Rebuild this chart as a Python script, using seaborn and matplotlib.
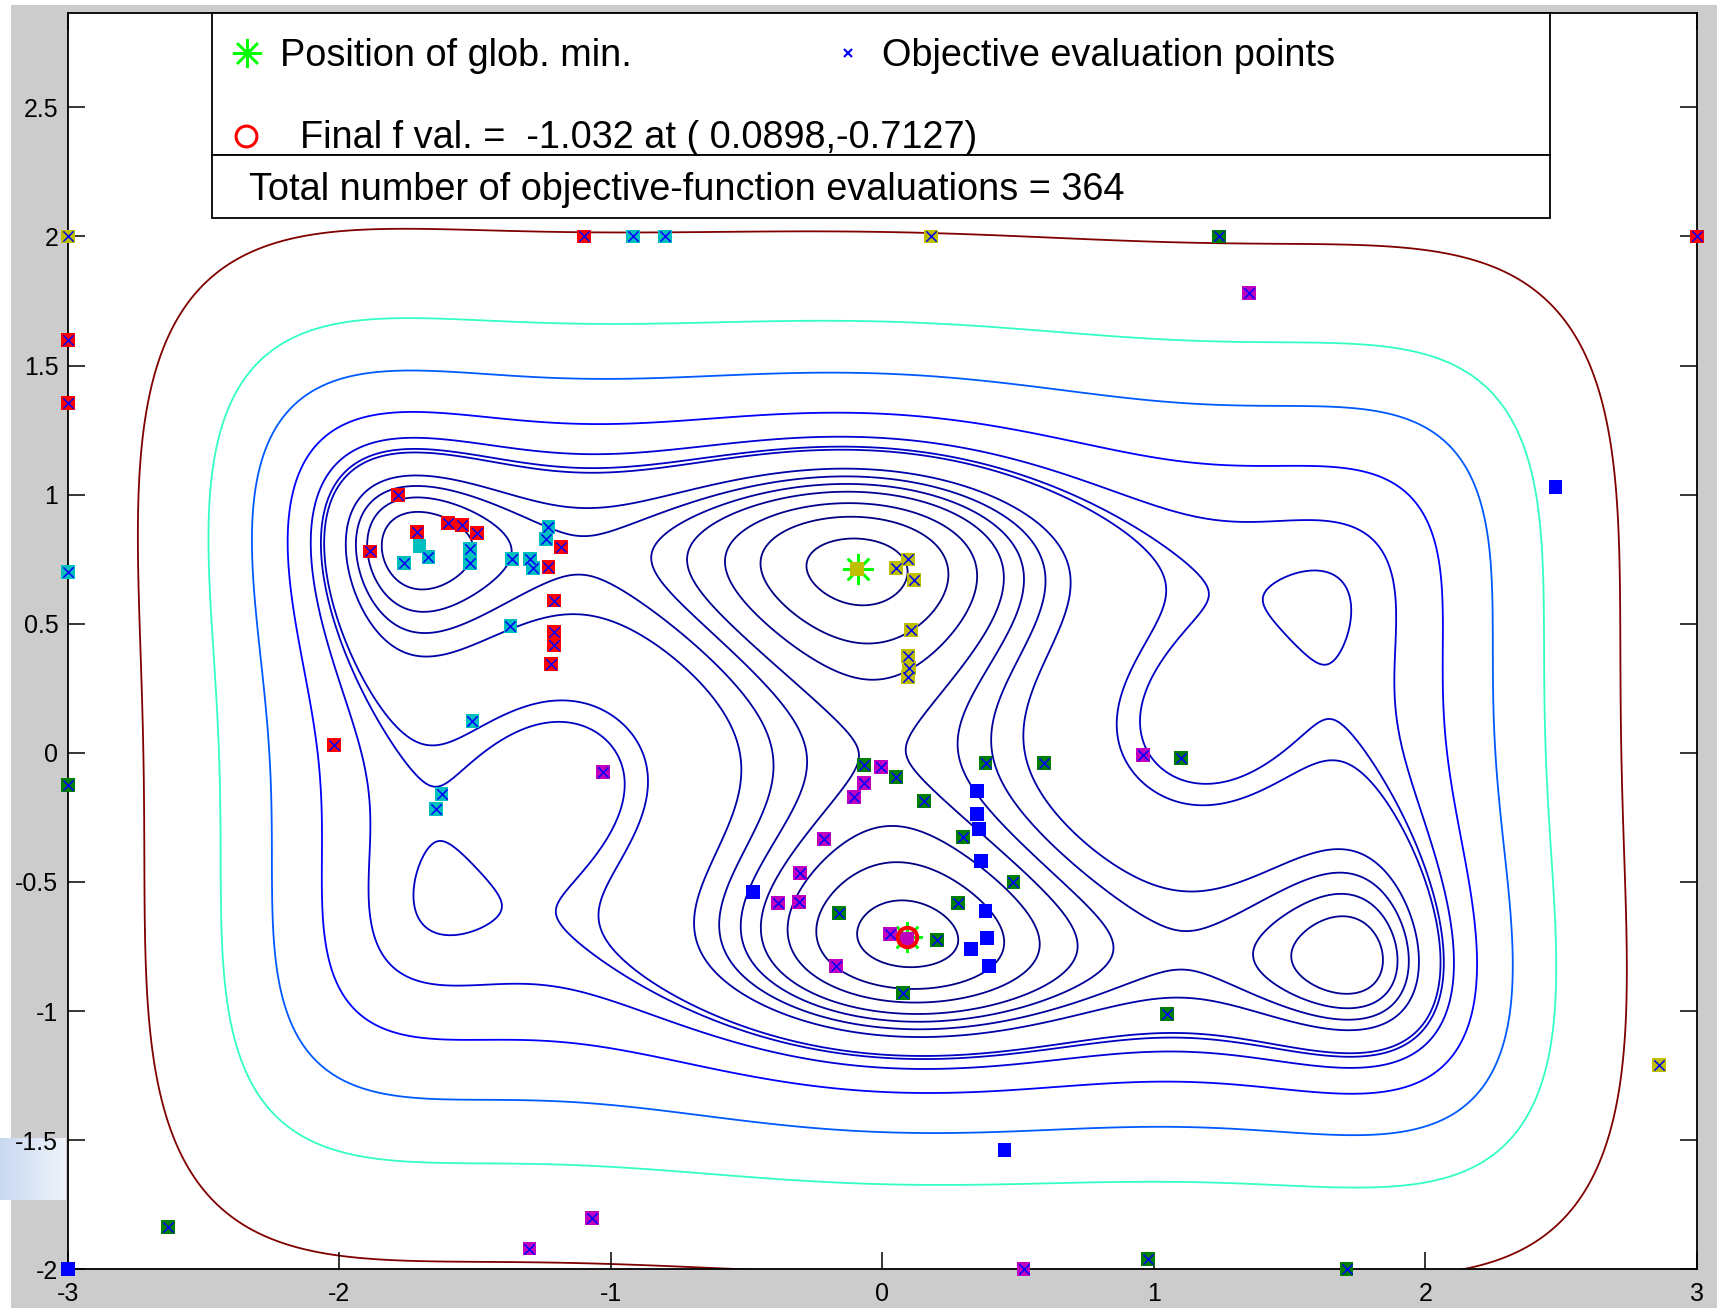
import numpy as np
import pandas as pd
import matplotlib
matplotlib.use("Agg")
import matplotlib.pyplot as plt
from matplotlib.patches import Rectangle
import seaborn as sns

# contour levels of the objective (six-hump camel back)
levels = [-0.9, -0.6, -0.3, 0.03, 0.3, 0.6, 0.95, 2.0, 2.2, 2.9, 5, 10, 20, 50]

# evaluation points, grouped by colour
red_x = [-1.10, 3.00, -3.00, -3.00, -1.785, -1.886, -1.713, -1.60, -1.547, -1.493, -1.184, -1.23, -1.21, -1.21, -1.21, -1.22, -2.02]
red_y = [2.00, 2.00, 1.60, 1.355, 1.00, 0.78, 0.855, 0.89, 0.884, 0.85, 0.797, 0.72, 0.59, 0.468, 0.418, 0.345, 0.032]
cyan_x = [-0.92, -0.80, -3.00, -1.761, -1.672, -1.519, -1.519, -1.363, -1.298, -1.286, -1.23, -1.24, -1.37, -1.51, -1.624, -1.644]
cyan_y = [2.00, 2.00, 0.70, 0.736, 0.758, 0.79, 0.735, 0.75, 0.75, 0.716, 0.875, 0.83, 0.49, 0.125, -0.16, -0.218]
yellow_x = [-3.00, 0.18, 2.86, 0.095, 0.051, 0.115, 0.107, 0.095, 0.099, 0.095]
yellow_y = [2.00, 2.00, -1.21, 0.749, 0.715, 0.668, 0.477, 0.375, 0.33, 0.295]
green_x = [1.24, -3.00, -2.63, 0.98, 1.71, -0.069, 0.051, 0.152, 0.38, 0.594, 0.297, 0.483, 0.28, -0.161, 0.202, 0.077, 1.10, 1.05]
green_y = [2.00, -0.125, -1.835, -1.96, -2.00, -0.047, -0.094, -0.187, -0.04, -0.04, -0.325, -0.50, -0.583, -0.621, -0.725, -0.93, -0.02, -1.01]
magenta_x = [1.35, -1.07, -1.30, 0.52, -1.03, -0.004, -0.066, -0.103, -0.214, -0.302, -0.383, -0.308, 0.029, -0.171, 0.96]
magenta_y = [1.78, -1.80, -1.92, -2.00, -0.074, -0.054, -0.117, -0.172, -0.333, -0.466, -0.582, -0.577, -0.70, -0.826, -0.01]
blue_x = [0.35, 0.35, 0.357, 0.365, -0.475, 0.38, 0.386, 0.328, 0.394, 0.45, 2.48, -3.00]
blue_y = [-0.148, -0.236, -0.295, -0.418, -0.539, -0.613, -0.718, -0.76, -0.826, -1.54, 1.03, -2.00]

# cluster best points (drawn as plain squares)
best_x = [-1.705, -0.092, 0.091]
best_y = [0.80, 0.712, -0.72]
best_group = ["cyan", "yellow", "magenta"]

glob_min_x = [-0.0898, 0.0898]
glob_min_y = [0.7126, -0.7126]
final_x = [0.0898]
final_y = [-0.7127]

x_ticks = [-3, -2, -1, 0, 1, 2, 3]
x_tick_labels = ["-3", "-2", "-1", "0", "1", "2", "3"]
y_ticks = [-2, -1.5, -1, -0.5, 0, 0.5, 1, 1.5, 2, 2.5]
y_tick_labels = ["-2", "-1.5", "-1", "-0.5", "0", "0.5", "1", "1.5", "2", "2.5"]

palette = {"red": "#ff0000", "cyan": "#00bfbf", "yellow": "#bfbf00",
           "green": "#007f00", "magenta": "#bf00bf", "blue": "#0000ff"}

frames = []
for name, xs, ys in [("red", red_x, red_y), ("cyan", cyan_x, cyan_y),
                     ("yellow", yellow_x, yellow_y), ("green", green_x, green_y),
                     ("magenta", magenta_x, magenta_y), ("blue", blue_x, blue_y)]:
    frames.append(pd.DataFrame({"x": xs, "y": ys, "group": name}))
pts = pd.concat(frames, ignore_index=True)
best = pd.DataFrame({"x": best_x, "y": best_y, "group": best_group})
crossed = pts[pts["group"] != "blue"]


def camel(x, y):
    return (4 - 2.1 * x**2 + x**4 / 3) * x**2 + x * y + (-4 + 4 * y**2) * y**2


gx = np.linspace(-3, 3, 601)
gy = np.linspace(-2.3, 2.3, 461)
X, Y = np.meshgrid(gx, gy)
Z = camel(X, Y)

plt.rcParams['font.family'] = ['Liberation Sans', 'DejaVu Sans']

W, H = 1717, 1308
fig = plt.figure(figsize=(W / 100, H / 100), dpi=100)
fig.patch.set_facecolor("white")
fig.add_artist(Rectangle((11 / W, 0), 1, 1 - 5 / H, transform=fig.transFigure,
                         facecolor="#cccccc", edgecolor="none", zorder=-10))

# pale blue slide element peeking in at the lower left
deco = fig.add_axes([0, 1 - 1200 / H, 66 / W, 62 / H], zorder=-5)
grad = np.linspace(0, 1, 64)[None, :].repeat(8, axis=0)
deco.imshow(grad, aspect="auto", cmap=matplotlib.colors.LinearSegmentedColormap.from_list(
    "pale", ["#c9d9f1", "#eef3fb"]))
deco.axis("off")

ax_l, ax_r, ax_t, ax_b = 68.0, 1696.7, 13.3, 1269.2
ax = fig.add_axes([ax_l / W, 1 - ax_b / H, (ax_r - ax_l) / W, (ax_b - ax_t) / H])
ax.set_facecolor("white")

ax.contour(X, Y, Z, levels=levels, cmap="jet", linewidths=1.3, zorder=1)

ax.plot(glob_min_x, glob_min_y, linestyle="none", marker=(8, 2, 0), ms=22,
        mew=1.8, color="#00ff00", zorder=2.9)

sns.scatterplot(data=pts, x="x", y="y", hue="group", palette=palette, marker="s",
                s=100, linewidth=0, legend=False, ax=ax, clip_on=False, zorder=3)
sns.scatterplot(data=best, x="x", y="y", hue="group", palette=palette, marker="s",
                s=100, linewidth=0, legend=False, ax=ax, clip_on=False, zorder=3)
sns.scatterplot(data=crossed, x="x", y="y", marker="x", color="#0000ff", s=55,
                linewidth=1.1, legend=False, ax=ax, clip_on=False, zorder=4)

ax.plot(final_x, final_y, linestyle="none", marker="o", mfc="none", mec="#ff0000",
        ms=14, mew=2.8, zorder=5)

ax.set_xlim(-3, 3)
ax.set_ylim(-2, 2.8645)
ax.set_xticks(x_ticks)
ax.set_xticklabels(x_tick_labels)
ax.set_yticks(y_ticks)
ax.set_yticklabels(y_tick_labels)
ax.set_xlabel("")
ax.set_ylabel("")
ax.tick_params(direction="in", length=12, width=1.1, top=True, right=True,
               labelsize=18, colors="black")
ax.tick_params(axis="x", pad=9)
ax.tick_params(axis="y", pad=7)
for sp in ax.spines.values():
    sp.set_linewidth(1.3)
    sp.set_color("black")
    sp.set_zorder(2.5)


# legend box drawn in pixel positions of the original figure
def fx(px):
    return (px - ax_l) / (ax_r - ax_l)


def fy(py):
    return (ax_b - py) / (ax_b - ax_t)


box_l, box_r, box_t, box_mid, box_b = 212.4, 1550.0, 13.3, 155.0, 218.0
ax.add_patch(Rectangle((fx(box_l), fy(box_mid)), fx(box_r) - fx(box_l), fy(box_t) - fy(box_mid),
                       transform=ax.transAxes, facecolor="white", edgecolor="black",
                       lw=1.3, zorder=10, clip_on=False))
ax.add_patch(Rectangle((fx(box_l), fy(box_b)), fx(box_r) - fx(box_l), fy(box_mid) - fy(box_b),
                       transform=ax.transAxes, facecolor="white", edgecolor="black",
                       lw=1.3, zorder=10, clip_on=False))

ax.plot([fx(247)], [fy(52.6)], transform=ax.transAxes, linestyle="none", marker=(8, 2, 0),
        ms=21, mew=1.8, color="#00ff00", zorder=11, clip_on=False)
ax.plot([fx(847.5)], [fy(52.6)], transform=ax.transAxes, linestyle="none", marker="x",
        ms=6, mew=1.5, color="#0000ff", zorder=11, clip_on=False)
ax.plot([fx(246)], [fy(135.8)], transform=ax.transAxes, linestyle="none", marker="o",
        mfc="none", mec="#ff0000", ms=15, mew=2.2, zorder=11, clip_on=False)

txt = dict(transform=ax.transAxes, fontsize=27.3, va="baseline", ha="left", zorder=12,
           color="black")
ax.text(fx(280), fy(65.5), "Position of glob. min.", **txt)
ax.text(fx(882), fy(65.5), "Objective evaluation points", **txt)
ax.text(fx(300), fy(148.5), "Final f val. =  -1.032 at ( 0.0898,-0.7127)", **txt)
ax.text(fx(249), fy(200.5), "Total number of objective-function evaluations = 364", **txt)

fig.savefig("out.png", dpi=100, facecolor=fig.get_facecolor())
